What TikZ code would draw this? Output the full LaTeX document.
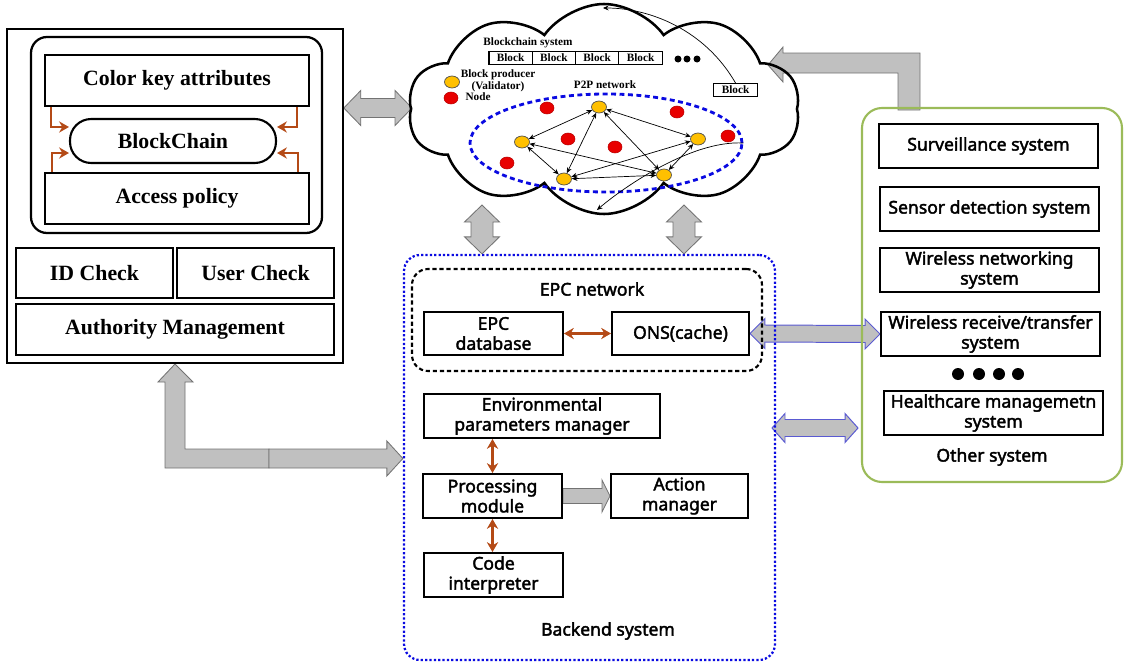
\documentclass[tikz,border=0pt]{standalone}
\usepackage{fontspec}
\setmainfont{Liberation Serif}
\newfontfamily\sysfont[FakeBold=2.2]{Noto Sans}
\usetikzlibrary{shapes.geometric,shapes.symbols,arrows.meta,calc}
\definecolor{brn}{RGB}{180,74,22}
\definecolor{blu}{RGB}{10,10,225}
\definecolor{grn}{RGB}{155,187,89}
\definecolor{gryfill}{RGB}{192,192,192}
\definecolor{grybd}{RGB}{115,115,115}
\definecolor{yel}{RGB}{255,192,0}
\definecolor{rd}{RGB}{232,0,0}
\definecolor{bbd}{RGB}{90,90,210}
\pgfdeclarelayer{bg}
\pgfsetlayers{bg,main}
\tikzset{
  sz/.style 2 args={minimum width=#1*0.025cm, minimum height=#2*0.025cm},
  serifbox/.style={draw, line width=1.5pt, inner sep=0pt, font=\fontsize{15.5}{17}\selectfont\bfseries},
  sysbox/.style={draw, line width=1.4pt, inner sep=0pt, align=center, font=\sysfont\fontsize{12.5}{14.2}\selectfont},
  systext/.style={inner sep=0pt, font=\sysfont\fontsize{12.5}{14.2}\selectfont},
  blk/.style={draw, line width=0.8pt, inner sep=0pt, sz={43.3}{13}, font=\fontsize{8}{8}\selectfont\bfseries},
  tiny/.style={inner sep=0pt, font=\fontsize{8}{8.5}\selectfont\bfseries},
  prod/.style={ellipse, draw=black!70, line width=0.5pt, fill=yel, sz={15}{12}, inner sep=0pt},
  peer/.style={ellipse, draw=rd!80!black, line width=0.4pt, fill=rd, sz={14}{12}, inner sep=0pt},
  p2parrow/.style={{Stealth[length=4pt,width=3.5pt]}-{Stealth[length=4pt,width=3.5pt]}, line width=0.5pt},
  brarrow/.style={draw=brn, line width=2pt, -{Stealth[length=7pt,width=8pt]}},
  brdarrow/.style={draw=brn, line width=2pt, {Stealth[length=7pt,width=8pt]}-{Stealth[length=7pt,width=8pt]}},
  garrow/.style={fill=gryfill, draw=grybd, line width=0.6pt},
  barrow/.style={fill=gryfill, draw=bbd, line width=0.7pt},
}
% block arrows: start, end, shaft half, head half, head length
\newcommand{\hdarrow}[6][garrow]{%
  \filldraw[#1] (#2) -- ($(#2)+(#6,-#5)$) -- ($(#2)+(#6,-#4)$) -- ($(#3)+(-#6,-#4)$)
    -- ($(#3)+(-#6,-#5)$) -- (#3) -- ($(#3)+(-#6,#5)$) -- ($(#3)+(-#6,#4)$)
    -- ($(#2)+(#6,#4)$) -- ($(#2)+(#6,#5)$) -- cycle;}
\newcommand{\vdarrow}[6][garrow]{%
  \filldraw[#1] (#2) -- ($(#2)+(-#5,#6)$) -- ($(#2)+(-#4,#6)$) -- ($(#3)+(-#4,-#6)$)
    -- ($(#3)+(-#5,-#6)$) -- (#3) -- ($(#3)+(#5,-#6)$) -- ($(#3)+(#4,-#6)$)
    -- ($(#2)+(#4,#6)$) -- ($(#2)+(#5,#6)$) -- cycle;}
\newcommand{\harrow}[6][garrow]{%
  \filldraw[#1] ($(#2)+(0,-#4)$) -- ($(#3)+(-#6,-#4)$) -- ($(#3)+(-#6,-#5)$) -- (#3)
    -- ($(#3)+(-#6,#5)$) -- ($(#3)+(-#6,#4)$) -- ($(#2)+(0,#4)$) -- cycle;}

\begin{document}
\begin{tikzpicture}[x=0.025cm,y=-0.025cm]
\useasboundingbox (0,0) rectangle (1126,664);

% left block
\node[draw, line width=1.1pt, sz={336}{334}] (leftbox) at (175,196) {};
\node[draw, line width=1.6pt, rounded corners=0.4cm, sz={291}{196}] (chainbox) at (176.5,135) {};
\node[serifbox, sz={264}{51}] (ckey) at (177,80.5) {Color key attributes};
\node[serifbox, rounded corners=0.53cm, sz={206}{44}] (bc) at (173,141) {BlockChain};
\node[serifbox, sz={264}{51}] (access) at (177,198.5) {Access policy};
\node[serifbox, sz={157}{50}] (idchk) at (94.5,273) {ID Check};
\node[serifbox, sz={157}{50}] (usrchk) at (255.5,273) {User Check};
\node[serifbox, sz={318}{51}] (auth) at (175,329.5) {Authority Management};
\draw[brarrow] ([xshift=0.175cm]ckey.south west) |- ([yshift=0.35cm]bc.west);
\draw[brarrow] ([xshift=-0.325cm]ckey.south east) |- ([yshift=0.35cm]bc.east);
\draw[brarrow] ([xshift=0.2cm]access.north west) |- ([yshift=-0.3cm]bc.west);
\draw[brarrow] ([xshift=-0.3cm]access.north east) |- ([yshift=-0.3cm]bc.east);

% backend
\node[draw=blu, line width=1.6pt, dash pattern=on 1.6pt off 1.5pt, rounded corners=0.4cm, sz={371}{405}] (backend) at (589.5,457.5) {};
\node[draw, line width=1.5pt, dash pattern=on 3pt off 2pt, rounded corners=0.4cm, sz={350}{102}] (epcnet) at (587,320) {};
\node[systext] (epclbl) at (592,289) {EPC network};
\node[sysbox, sz={139}{43}] (epcdb) at (493.5,333.5) {EPC\\database};
\node[sysbox, sz={137}{43}] (ons) at (680.5,333.5) {ONS(cache)};
\node[sysbox, sz={236}{44}] (envp) at (542,416) {Environmental\\parameters manager};
\node[sysbox, sz={139}{44}] (proc) at (492.5,496) {Processing\\module};
\node[sysbox, sz={137}{44}] (action) at (679.5,496) {Action\\manager};
\node[sysbox, sz={139}{44}] (code) at (493.5,575) {Code\\interpreter};
\node[systext] (backlbl) at (608,631) {Backend system};
\draw[brdarrow] (epcdb) -- (ons);
\draw[brdarrow] (proc.north) -- (proc.north |- envp.south);
\draw[brdarrow] (proc.south) -- (proc.south |- code.north);

% other systems
\node[draw=grn, line width=1.5pt, rounded corners=0.5cm, sz={260}{374}] (other) at (992,295) {};
\node[sysbox, sz={219}{44}] (surv) at (988.5,146) {Surveillance system};
\node[sysbox, sz={219}{44}] (sensor) at (989.5,209) {Sensor detection system};
\node[sysbox, sz={219}{44}] (wnet) at (989.5,270) {Wireless networking\\system};
\node[sysbox, sz={219}{44}] (wrx) at (990.5,334) {Wireless receive/transfer\\system};
\node[sysbox, sz={219}{44}] (health) at (993.5,413) {Healthcare managemetn\\system};
\node[systext] (otherlbl) at (992,457) {Other system};
\foreach \x [count=\i] in {958,979,999,1018}
  \node[circle, fill=black, sz={12}{12}, inner sep=0pt] (dot\i) at (\x,374) {};

% block arrows
\begin{pgfonlayer}{bg}
\coordinate (lwest) at (leftbox.east |- 0,108);
\coordinate (cwest) at (412,108);
\hdarrow{lwest}{cwest}{9.5}{17.5}{17}
\coordinate (c1) at (482,205);
\coordinate (b1) at (backend.north -| 482,0);
\vdarrow{c1}{b1}{11}{17.5}{17}
\coordinate (c2) at (684,205);
\coordinate (b2) at (backend.north -| 684,0);
\vdarrow{c2}{b2}{11}{17.5}{17}
\hdarrow[barrow]{ons.east}{wrx.west}{8.5}{15}{15}
\coordinate (bkeast) at (772,428);
\coordinate (oteast) at (858,428);
\hdarrow[barrow]{bkeast}{oteast}{8.5}{14.5}{13}
\harrow{proc.east}{action.west}{7.5}{16}{8}
\coordinate (lt) at (175,364);
\filldraw[garrow] (lt) -- ++(18,18) -- ++(-8,0) -- ++(0,67) -- ++(84,0) -- ++(0,19)
  -- ++(-104,0) -- ++(0,-86) -- ++(-7,0) -- cycle;
\coordinate (lbend) at (269,458.5);
\coordinate (bwest) at (backend.west |- 0,458.5);
\harrow{lbend}{bwest}{9.5}{17.5}{16}
\coordinate (rt) at (768,65);
\filldraw[garrow] (rt) -- ++(15,-18) -- ++(0,6) -- ++(137,0) -- ++(0,57) -- ++(-22,0)
  -- ++(0,-37) -- ++(-115,0) -- ++(0,9) -- cycle;
\end{pgfonlayer}

% blockchain cloud
\node[cloud, draw, line width=1.8pt, cloud puffs=10, cloud puff arc=110, aspect=1.85, sz={392}{210}] (cloud) at (604,109) {};
\node[tiny] (bcsys) at (528,43) {Blockchain system};
\foreach \i in {0,...,3}
  \node[blk] (b\i) at ({510.6+43.3*\i},58) {Block};
\foreach \x [count=\i] in {678,687,697}
  \node[circle, fill=black, sz={7}{7}, inner sep=0pt] (bd\i) at (\x,59) {};
\node[blk] (blk5) at (735.5,90) {Block};
\node[prod] (lgprod) at (452,82) {};
\node[peer] (lgpeer) at (451,98) {};
\node[tiny, align=center] (prodlbl) at (498,81) {Block producer\\(Validator)};
\node[tiny] (peerlbl) at (478,97) {Node};
\node[tiny] (p2plbl) at (605,85) {P2P network};
\node[draw=blu, ellipse, line width=2pt, dash pattern=on 3.5pt off 2.5pt, sz={272}{98}] (p2p) at (606,143) {};
\node[prod] (va) at (599,107) {};
\node[prod] (vb) at (522,142) {};
\node[prod] (vc) at (698,139) {};
\node[prod] (vd) at (564,179) {};
\node[prod] (ve) at (664,175) {};
\node[peer] (ra) at (547,108) {};
\node[peer] (rb) at (568,139) {};
\node[peer] (rc) at (615,147) {};
\node[peer] (rd) at (507,163) {};
\node[peer] (re) at (677,112) {};
\node[peer] (rf) at (728,136) {};
\foreach \a/\b in {va/vb,va/vd,va/ve,va/vc,vb/vd,vb/ve,vc/vd,vc/ve,vd/ve}
  \draw[p2parrow] (\a) -- (\b);
\coordinate (ctop) at (603,8);
\coordinate (cbot) at (597,210);
\draw[line width=0.5pt, -{Stealth[length=4pt,width=3.5pt]}] (blk5.north) .. controls (705,30) and (650,8) .. (ctop);
\draw[line width=0.5pt, -{Stealth[length=4pt,width=3.5pt]}] (p2p.east) .. controls (690,140) and (620,190) .. (cbot);
\end{tikzpicture}
\end{document}
